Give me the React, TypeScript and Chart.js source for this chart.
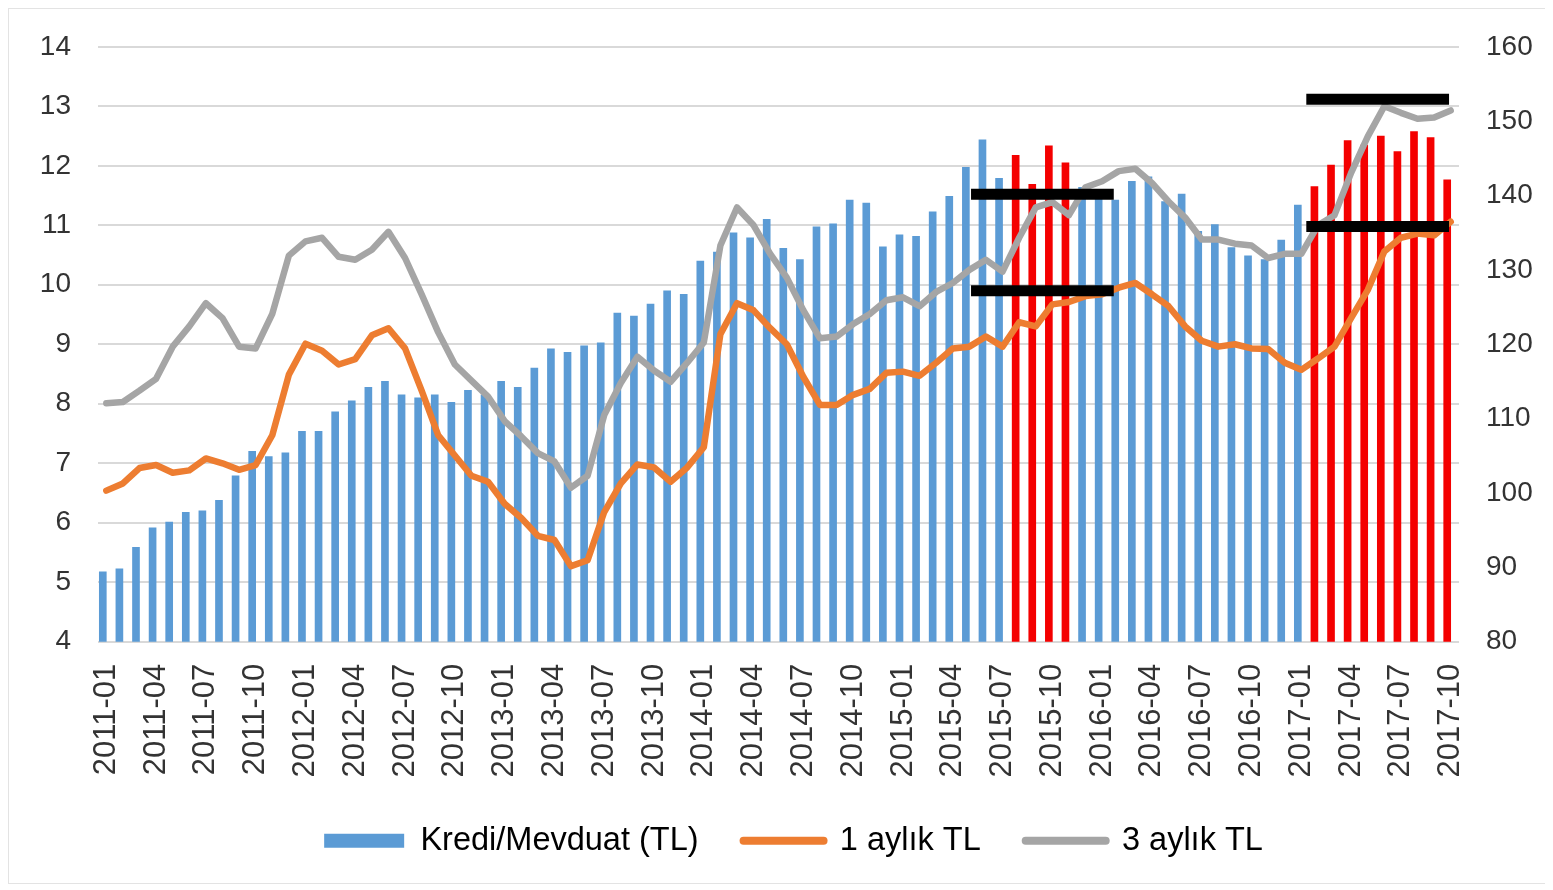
import React, { useEffect, useRef } from 'react';
import { Chart, registerables } from 'chart.js';

Chart.register(...registerables);

// Categories (monthly, 2011-01 .. 2017-10)
const months: string[] = [
  '2011-01', '2011-02', '2011-03', '2011-04', '2011-05', '2011-06', '2011-07', '2011-08', '2011-09', '2011-10', '2011-11', '2011-12',
  '2012-01', '2012-02', '2012-03', '2012-04', '2012-05', '2012-06', '2012-07', '2012-08', '2012-09', '2012-10', '2012-11', '2012-12',
  '2013-01', '2013-02', '2013-03', '2013-04', '2013-05', '2013-06', '2013-07', '2013-08', '2013-09', '2013-10', '2013-11', '2013-12',
  '2014-01', '2014-02', '2014-03', '2014-04', '2014-05', '2014-06', '2014-07', '2014-08', '2014-09', '2014-10', '2014-11', '2014-12',
  '2015-01', '2015-02', '2015-03', '2015-04', '2015-05', '2015-06', '2015-07', '2015-08', '2015-09', '2015-10', '2015-11', '2015-12',
  '2016-01', '2016-02', '2016-03', '2016-04', '2016-05', '2016-06', '2016-07', '2016-08', '2016-09', '2016-10', '2016-11', '2016-12',
  '2017-01', '2017-02', '2017-03', '2017-04', '2017-05', '2017-06', '2017-07', '2017-08', '2017-09', '2017-10',
];

// Kredi/Mevduat (TL), right axis (%)
const krediMevduat: number[] = [
  89.4, 89.8, 92.7, 95.3, 96.1, 97.4, 97.6, 99.0, 102.3, 105.6, 104.9, 105.4,
  108.3, 108.3, 110.9, 112.4, 114.2, 115.0, 113.2, 112.8, 113.2, 112.2, 113.8, 113.2,
  115.0, 114.2, 116.8, 119.4, 118.9, 119.8, 120.2, 124.2, 123.8, 125.4, 127.2, 126.7,
  131.2, 132.4, 135.0, 134.3, 136.8, 132.9, 131.4, 135.8, 136.2, 139.4, 139.0, 133.1,
  134.7, 134.5, 137.8, 139.9, 143.8, 147.5, 142.3, 145.4, 141.5, 146.7, 144.4, 141.1,
  140.8, 139.4, 141.9, 142.5, 139.2, 140.2, 135.2, 136.1, 133.0, 131.9, 131.4, 134.0,
  138.7, 141.2, 144.1, 147.4, 146.8, 148.0, 145.9, 148.6, 147.8, 142.1,
];

// 1 aylık TL, left axis (%)
const birAylikTL: number[] = [
  6.54, 6.66, 6.92, 6.97, 6.84, 6.88, 7.08, 7.0, 6.89, 6.97, 7.47, 8.49,
  9.01, 8.89, 8.66, 8.75, 9.15, 9.27, 8.93, 8.22, 7.47, 7.13, 6.79, 6.69,
  6.32, 6.08, 5.78, 5.71, 5.27, 5.37, 6.18, 6.66, 6.98, 6.93, 6.69, 6.93,
  7.27, 9.17, 9.69, 9.57, 9.27, 9.0, 8.45, 7.98, 7.98, 8.15, 8.25, 8.52,
  8.54, 8.47, 8.69, 8.93, 8.96, 9.13, 8.96, 9.37, 9.3, 9.67, 9.71, 9.81,
  9.84, 9.95, 10.03, 9.84, 9.64, 9.3, 9.06, 8.96, 9.0, 8.93, 8.92, 8.69,
  8.57, 8.76, 8.96, 9.44, 9.91, 10.56, 10.79, 10.86, 10.83, 11.06,
];

// 3 aylık TL, left axis (%)
const ucAylikTL: number[] = [
  8.01, 8.03, 8.22, 8.42, 8.96, 9.3, 9.69, 9.44, 8.96, 8.93, 9.51, 10.49,
  10.73, 10.79, 10.47, 10.42, 10.59, 10.89, 10.45, 9.84, 9.2, 8.66, 8.39, 8.12,
  7.71, 7.45, 7.17, 7.03, 6.59, 6.79, 7.81, 8.35, 8.79, 8.56, 8.37, 8.69,
  9.03, 10.66, 11.3, 11.0, 10.52, 10.12, 9.57, 9.1, 9.13, 9.34, 9.51, 9.74,
  9.79, 9.64, 9.88, 10.03, 10.25, 10.42, 10.22, 10.79, 11.3, 11.39, 11.17, 11.64,
  11.74, 11.91, 11.95, 11.71, 11.4, 11.13, 10.76, 10.76, 10.69, 10.66, 10.45, 10.52,
  10.52, 11.0, 11.17, 11.88, 12.49, 13.0, 12.89, 12.79, 12.81, 12.93,
];

// Months whose bars are highlighted in red
const highlightMonths: string[] = [
  '2015-08', '2015-09', '2015-10', '2015-11',
  '2017-02', '2017-03', '2017-04', '2017-05', '2017-06', '2017-07', '2017-08', '2017-09', '2017-10',
];

// Black reference bands (x in month-index units, y on left axis)
const bandStart: number[] = [52.1, 52.1, 72.3, 72.3];
const bandEnd: number[] = [60.7, 60.7, 80.9, 80.9];
const bandLevel: number[] = [11.52, 9.9, 13.12, 10.98];

const leftAxis = { min: 4, max: 14, step: 1 };
const rightAxis = { min: 80, max: 160, step: 10 };

const BLUE = '#5B9BD5';
const RED = '#F40000';
const ORANGE = '#ED7D31';
const GRAY = '#A5A5A5';
const TEXT = '#333333';
const FONT = "'Liberation Sans', Arial, sans-serif";

export default function App() {
  const ref = useRef<HTMLCanvasElement>(null);

  useEffect(() => {
    if (!ref.current) return;
    const barColors = months.map((m) => (highlightMonths.includes(m) ? RED : BLUE));
    const bandSets = bandLevel.map((lvl, i) => ({
      type: 'line' as const,
      label: '_band' + i,
      data: [
        { x: bandStart[i], y: lvl },
        { x: bandEnd[i], y: lvl },
      ],
      xAxisID: 'xAnn',
      yAxisID: 'y',
      borderColor: '#000000',
      borderWidth: 11,
      borderCapStyle: 'butt' as const,
      pointRadius: 0,
      order: 0,
    }));

    const chart = new Chart(ref.current, {
      type: 'bar',
      data: {
        labels: months,
        datasets: [
          {
            type: 'bar',
            label: 'Kredi/Mevduat (TL)',
            data: krediMevduat,
            backgroundColor: barColors,
            barThickness: 7,
            xAxisID: 'x',
            yAxisID: 'y1',
            order: 3,
          } as any,
          {
            type: 'line',
            label: '1 aylık TL',
            data: birAylikTL,
            borderColor: ORANGE,
            backgroundColor: ORANGE,
            borderWidth: 6.5,
            pointRadius: 0,
            borderJoinStyle: 'round',
            borderCapStyle: 'round',
            xAxisID: 'x',
            yAxisID: 'y',
            order: 1,
          },
          {
            type: 'line',
            label: '3 aylık TL',
            data: ucAylikTL,
            borderColor: GRAY,
            backgroundColor: GRAY,
            borderWidth: 6.5,
            pointRadius: 0,
            borderJoinStyle: 'round',
            borderCapStyle: 'round',
            xAxisID: 'x',
            yAxisID: 'y',
            order: 2,
          },
          ...bandSets,
        ] as any,
      },
      options: {
        responsive: false,
        animation: false,
        layout: { padding: { top: 5, bottom: 16, left: 32, right: 0 } },
        scales: {
          x: {
            type: 'category',
            offset: true,
            grid: { display: false, drawTicks: false },
            border: { display: false },
            ticks: {
              autoSkip: false,
              maxRotation: 90,
              minRotation: 90,
              padding: 22,
              color: TEXT,
              font: { size: 31, family: FONT },
              callback: (_v: any, i: number) => (i % 3 === 0 ? months[i] : ''),
            },
            afterFit: (s: any) => {
              s.height = s.height - 20;
            },
          },
          xAnn: {
            type: 'linear',
            position: 'top',
            offset: false,
            min: -0.5,
            max: months.length - 0.5,
            display: true,
            ticks: { display: false },
            grid: { display: false, drawTicks: false, offset: false },
            border: { display: false },
          },
          y: {
            position: 'left',
            min: leftAxis.min,
            max: leftAxis.max,
            ticks: {
              stepSize: leftAxis.step,
              padding: 21,
              color: TEXT,
              font: { size: 28, family: FONT },
            },
            grid: {
              color: '#D9D9D9',
              lineWidth: 2,
              drawTicks: true,
              tickLength: 6,
              tickColor: 'rgba(0,0,0,0)',
            },
            border: { display: false },
            afterFit: (s: any) => {
              s.width = 57;
            },
          },
          y1: {
            position: 'right',
            min: rightAxis.min,
            max: rightAxis.max,
            ticks: {
              stepSize: rightAxis.step,
              padding: 21,
              color: TEXT,
              font: { size: 28, family: FONT },
            },
            grid: {
              display: true,
              drawOnChartArea: false,
              drawTicks: true,
              tickLength: 6,
              tickColor: 'rgba(0,0,0,0)',
              color: 'rgba(0,0,0,0)',
            },
            border: { display: false },
            afterFit: (s: any) => {
              s.width = 87;
            },
          },
        } as any,
        plugins: {
          tooltip: { enabled: false },
          legend: {
            position: 'bottom',
            labels: {
              usePointStyle: true,
              pointStyleWidth: 80,
              boxHeight: 14,
              padding: 45,
              color: TEXT,
              font: { size: 32.5, family: FONT },
              generateLabels: () => [
                {
                  text: 'Kredi/Mevduat (TL)',
                  fillStyle: BLUE,
                  strokeStyle: BLUE,
                  lineWidth: 0,
                  pointStyle: 'rect',
                  hidden: false,
                  datasetIndex: 0,
                },
                {
                  text: '1 aylık TL',
                  fillStyle: ORANGE,
                  strokeStyle: ORANGE,
                  lineWidth: 8,
                  lineCap: 'round',
                  pointStyle: 'line',
                  hidden: false,
                  datasetIndex: 1,
                },
                {
                  text: '3 aylık TL',
                  fillStyle: GRAY,
                  strokeStyle: GRAY,
                  lineWidth: 8,
                  lineCap: 'round',
                  pointStyle: 'line',
                  hidden: false,
                  datasetIndex: 2,
                },
              ],
            },
          },
        },
      } as any,
    });
    return () => chart.destroy();
  }, []);

  return (
    <div style={{ width: 1537, height: 874, border: '1px solid #E3E3E3', boxSizing: 'content-box' }}>
      <canvas ref={ref} width={1537} height={874} style={{ display: 'block' }} />
    </div>
  );
}
